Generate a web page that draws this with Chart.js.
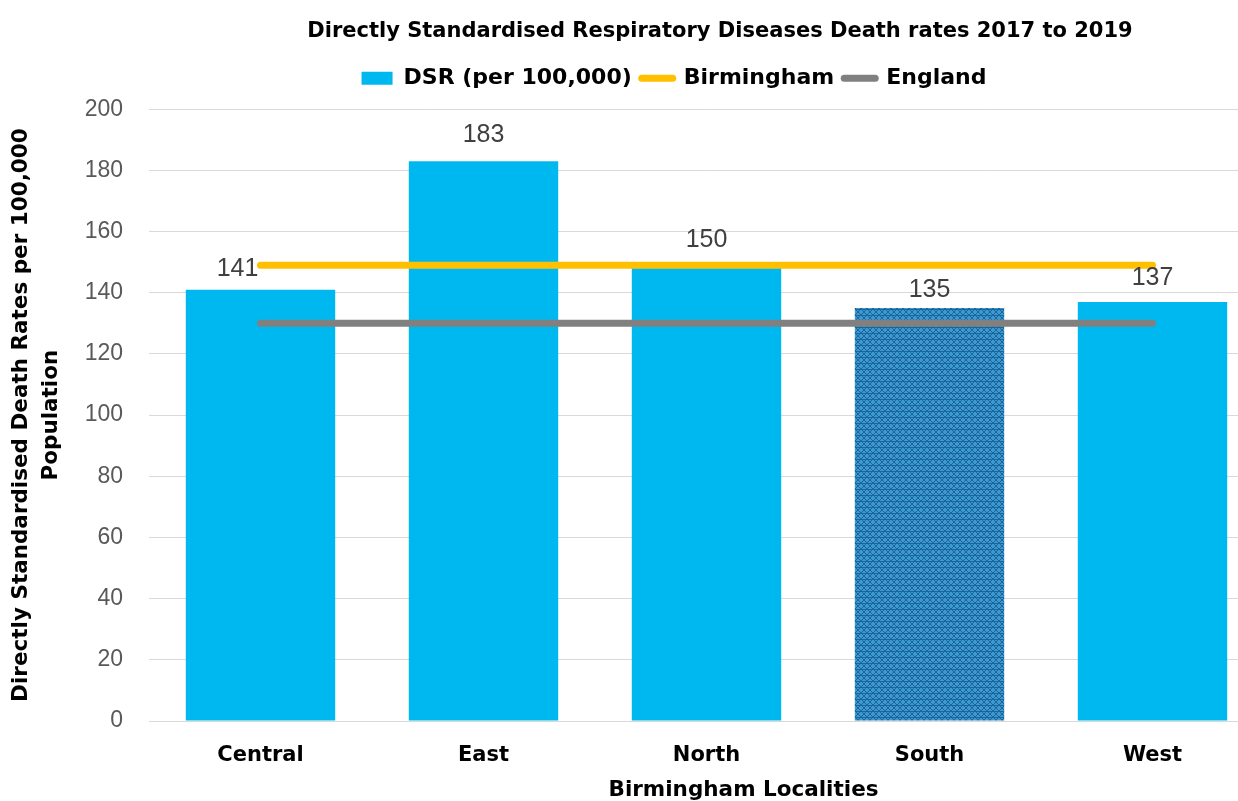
<!DOCTYPE html>
<html>
<head>
<meta charset="utf-8">
<script src="https://cdn.jsdelivr.net/npm/chart.js@4"></script>
<style>
  html, body { margin: 0; padding: 0; background: #fff; overflow: hidden; }
  #wrap { position: relative; width: 1238px; height: 801px; overflow: hidden; }
  #chart { position: absolute; left: 0; top: 0; }
</style>
</head>
<body>
<div id="wrap"><canvas id="chart" width="1264" height="803"></canvas></div>
<script>
const categories = ["Central", "East", "North", "South", "West"];
const dsrValues = [141, 183, 150, 135, 137];
const birminghamValues = [149, 149, 149, 149, 149];
const englandValues = [130, 130, 130, 130, 130];
const yMin = 0, yMax = 200, yStep = 20;

document.addEventListener("DOMContentLoaded", () => {
  const boldFont = "DejaVu Sans";
  const plainFont = "Liberation Sans";

  // small crosshatch tile for the highlighted bar
  const makePattern = () => {
    const c = document.createElement("canvas");
    c.width = 6; c.height = 6;
    const g = c.getContext("2d");
    g.fillStyle = "#3b9ad3";
    g.fillRect(0, 0, 6, 6);
    g.fillStyle = "#1d6499";
    for (let i = 0; i < 6; i++) {
      g.fillRect(i, i, 1, 1);
      g.fillRect(5 - i, i, 1, 1);
    }
    g.fillRect(0, 3, 6, 1);
    return g.createPattern(c, "repeat");
  };

  const barColors = categories.map((c, i) => (i === 3 ? makePattern() : "#00b8f0"));

  // labels were nudged by hand in the original
  const labelNudge = [[-23, -21], [0, -26], [0, -22], [0, -18], [0, -24]];

  const valueLabels = {
    id: "valueLabels",
    afterDatasetsDraw(chart) {
      const { ctx } = chart;
      const meta = chart.getDatasetMeta(0);
      ctx.save();
      ctx.font = `25px "${plainFont}"`;
      ctx.fillStyle = "#404040";
      ctx.textAlign = "center";
      ctx.textBaseline = "middle";
      meta.data.forEach((bar, i) => {
        const [dx, dy] = labelNudge[i];
        ctx.fillText(dsrValues[i], bar.x + dx, bar.y + dy);
      });
      ctx.restore();
    },
  };

  // title, legend and x axis title sit off-centre in the original
  const shiftBoxes = {
    id: "shiftBoxes",
    afterInit(chart) {
      const legend = chart.legend;
      const fit = legend.fit.bind(legend);
      legend.fit = () => { fit(); legend.height += 10; };
    },
    afterLayout(chart) {
      chart.titleBlock.left += 88;
      chart.titleBlock.right += 88;
      chart.legend.left += 42;
      chart.legend.right += 42;
      const x = chart.scales.x;
      if (!x._titleShifted) {
        const drawTitle = x.drawTitle.bind(x);
        x.drawTitle = () => {
          x.left += 37; x.right += 37;
          drawTitle();
          x.left -= 37; x.right -= 37;
        };
        x._titleShifted = true;
      }
    },
  };

  new Chart(document.getElementById("chart").getContext("2d"), {
    type: "bar",
    data: {
      labels: categories,
      datasets: [
        {
          label: "DSR (per 100,000)",
          data: dsrValues,
          backgroundColor: barColors,
          borderWidth: 0,
          categoryPercentage: 1,
          barPercentage: 0.67,
          order: 2,
        },
        {
          type: "line",
          label: "Birmingham",
          data: birminghamValues,
          borderColor: "#ffc000",
          backgroundColor: "#ffc000",
          borderWidth: 7,
          borderCapStyle: "round",
          pointRadius: 0,
          order: 1,
        },
        {
          type: "line",
          label: "England",
          data: englandValues,
          borderColor: "#808080",
          backgroundColor: "#808080",
          borderWidth: 7,
          borderCapStyle: "round",
          pointRadius: 0,
          order: 0,
        },
      ],
    },
    options: {
      responsive: false,
      animation: false,
      layout: { padding: 0 },
      plugins: {
        tooltip: { enabled: false },
        title: {
          display: true,
          text: "Directly Standardised Respiratory Diseases Death rates 2017 to 2019",
          color: "#000",
          font: { family: boldFont, size: 21, weight: "bold", lineHeight: 1.2 },
          padding: { top: 19, bottom: 13 },
        },
        legend: {
          labels: {
            color: "#000",
            font: { family: boldFont, size: 22, weight: "bold" },
            usePointStyle: true,
            pointStyleWidth: 31,
            boxHeight: 13,
            padding: 10,
            generateLabels: (chart) =>
              chart.data.datasets.map((ds, i) => ({
                text: ds.label,
                datasetIndex: i,
                pointStyle: i === 0 ? "rect" : "line",
                fillStyle: i === 0 ? "#00b8f0" : ds.borderColor,
                strokeStyle: i === 0 ? "#00b8f0" : ds.borderColor,
                lineWidth: i === 0 ? 0 : 7,
                lineCap: "round",
                fontColor: "#000",
                hidden: false,
              })),
          },
        },
      },
      scales: {
        x: {
          grid: { display: false },
          border: { display: true, color: "#d9d9d9" },
          ticks: {
            color: "#000",
            font: { family: boldFont, size: 21, weight: "bold" },
            padding: 14,
          },
          title: {
            display: true,
            text: "Birmingham Localities",
            color: "#000",
            font: { family: boldFont, size: 21.5, weight: "bold", lineHeight: 1.2 },
            padding: 0,
          },
          afterFit: (scale) => { scale.height = 82; },
        },
        y: {
          min: yMin,
          max: yMax,
          grid: { color: "#d9d9d9", drawTicks: false },
          border: { display: false },
          ticks: {
            stepSize: yStep,
            color: "#595959",
            font: { family: plainFont, size: 23 },
            padding: 26,
          },
          title: {
            display: true,
            text: ["Directly Standardised Death Rates per 100,000", "Population"],
            color: "#000",
            font: { family: boldFont, size: 21.5, weight: "bold", lineHeight: 1.4 },
            padding: { top: 6, bottom: 0 },
          },
          afterFit: (scale) => { scale.width = 149; },
        },
      },
    },
    plugins: [valueLabels, shiftBoxes],
  });
});
</script>
</body>
</html>
